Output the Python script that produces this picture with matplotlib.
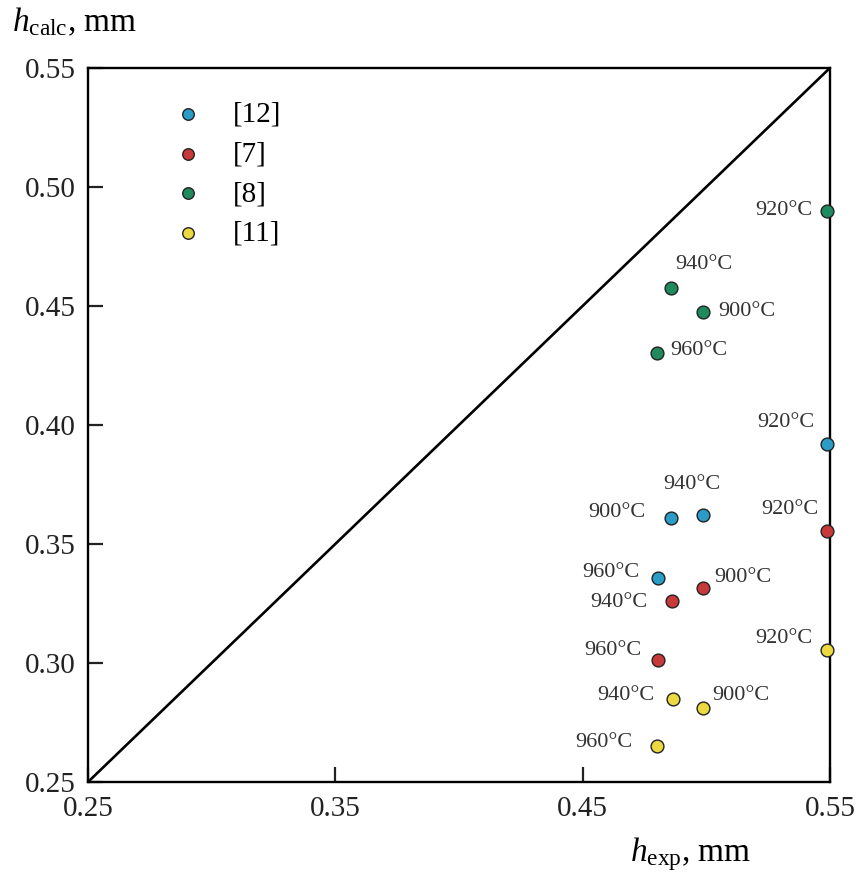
import matplotlib
matplotlib.use("Agg")
import matplotlib.pyplot as plt

plt.rcParams['font.family'] = ['Liberation Serif', 'DejaVu Serif']
plt.rcParams['mathtext.fontset'] = 'custom'
plt.rcParams['mathtext.rm'] = 'Liberation Serif'
plt.rcParams['mathtext.it'] = 'Liberation Serif:italic'

# h_exp / h_calc per source, order: 900, 920, 940, 960 °C
temps = ['900°C', '920°C', '940°C', '960°C']
sources = ['[12]', '[7]', '[8]', '[11]']
colors = ['#2b9cc6', '#c8393a', '#1f8a5e', '#ecd941']

h_exp = {
    '[12]': [0.4858, 0.549, 0.4988, 0.4804],
    '[7]':  [0.4986, 0.549, 0.486, 0.4804],
    '[8]':  [0.4986, 0.549, 0.4858, 0.480],
    '[11]': [0.4988, 0.549, 0.4864, 0.480],
}
h_calc = {
    '[12]': [0.3608, 0.3919, 0.3622, 0.3356],
    '[7]':  [0.3314, 0.3555, 0.3262, 0.3013],
    '[8]':  [0.4476, 0.4900, 0.4577, 0.4301],
    '[11]': [0.2810, 0.3055, 0.2848, 0.2653],
}

# label offsets in pixels (dx, dy, ha)
offsets = {
    '[12]': [(-26, 6, 'right'), (-42, 22, 'center'), (-11, 30, 'center'), (-18, 6, 'right')],
    '[7]':  [(11, 11, 'left'), (-38, 21, 'center'), (-24, -2, 'right'), (-16, 9, 'right')],
    '[8]':  [(15, 0, 'left'), (-15, 0, 'right'), (33, 23, 'center'), (13, 3, 'left')],
    '[11]': [(9, 13, 'left'), (-15, 11, 'right'), (-18, 4, 'right'), (-24, 3, 'right')],
}

fig = plt.figure(figsize=(8.6, 8.76), dpi=100)
ax = fig.add_axes([0.1023, 0.1073, 0.8627, 0.8151])

ax.plot([0.25, 0.55], [0.25, 0.55], color='black', lw=1.9, zorder=1)

for src, col in zip(sources, colors):
    ax.scatter(h_exp[src], h_calc[src], s=85, color=col, edgecolor='#222222',
               linewidth=1.0, zorder=3, clip_on=False, label=src)
    for x, y, t, (dx, dy, ha) in zip(h_exp[src], h_calc[src], temps, offsets[src]):
        ax.annotate(t, (x, y), xytext=(dx, dy), textcoords='offset pixels',
                    ha=ha, va='center', fontsize=16, color='#333333')

ax.set_xlim(0.25, 0.55)
ax.set_ylim(0.25, 0.55)
ax.set_xticks([0.25, 0.35, 0.45, 0.55])
ax.set_yticks([0.25, 0.30, 0.35, 0.40, 0.45, 0.50, 0.55])
ax.set_xticklabels(['0.25', '0.35', '0.45', '0.55'])
ax.set_yticklabels(['0.25', '0.30', '0.35', '0.40', '0.45', '0.50', '0.55'])
ax.tick_params(axis='both', direction='in', length=11, width=1.6, labelsize=21,
               colors='#222222')
ax.tick_params(axis='x', pad=10)
ax.tick_params(axis='y', pad=9)
for sp in ax.spines.values():
    sp.set_linewidth(1.7)

fig.text(0.014, 0.975, r'$h_{\rm calc}$, mm', fontsize=24, ha='left', va='center')
fig.text(0.733, 0.025, r'$h_{\rm exp}$, mm', fontsize=24, ha='left', va='center')

ax.legend(loc='upper left', bbox_to_anchor=(0.0957, 0.953), frameon=False,
          fontsize=21, labelspacing=0.45, handletextpad=0.54, handlelength=2.0,
          scatterpoints=1, markerscale=0.9, borderpad=0, borderaxespad=0)

fig.savefig('out.png', dpi=100)
